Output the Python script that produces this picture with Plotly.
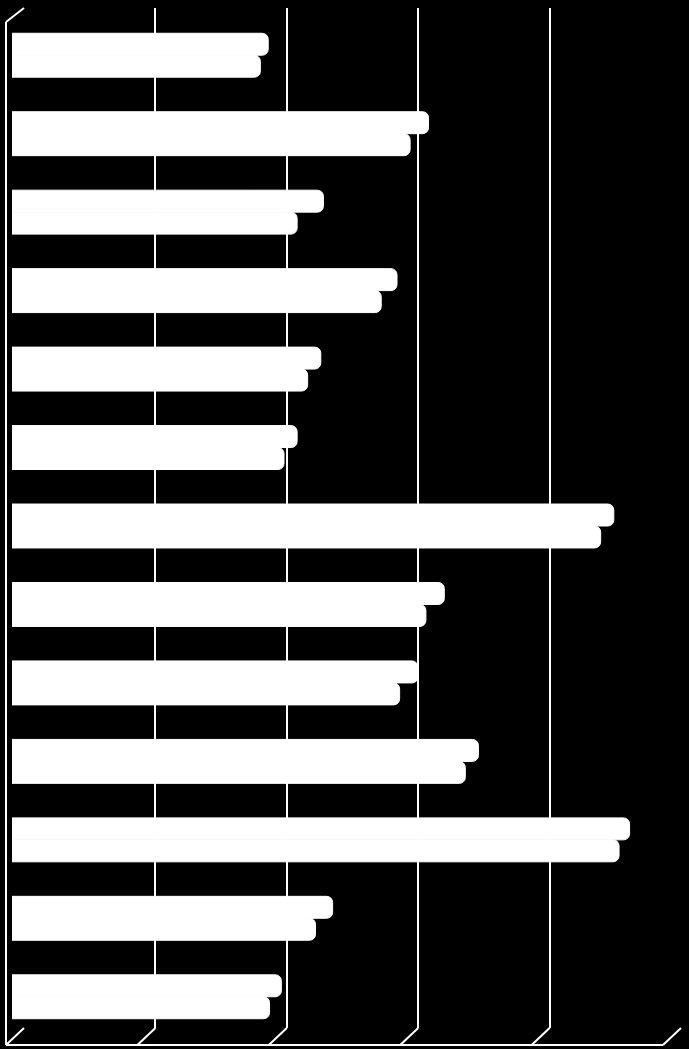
import plotly.graph_objects as go

W, H = 689, 1049

# categories top to bottom, two series per category (no labels shown in the picture)
categories = ["1", "2", "3", "4", "5", "6", "7", "8", "9", "10", "11", "12", "13"]
series_a = [1.95, 3.17, 2.37, 2.93, 2.35, 2.17, 4.58, 3.29, 3.09, 3.55, 4.70, 2.44, 2.05]
series_b = [1.89, 3.03, 2.17, 2.81, 2.25, 2.07, 4.48, 3.15, 2.95, 3.45, 4.62, 2.31, 1.96]
grid_ticks = [0, 1, 2, 3, 4, 5]


def px(x):
    return x / W


def py(y):
    return 1 - y / H


fig = go.Figure()

# empty trace so the back-wall grid subplot gets drawn
fig.add_trace(go.Scatter(x=[], y=[], xaxis="x", yaxis="y", showlegend=False))

for name, vals in [("Series 1", series_a), ("Series 2", series_b)]:
    fig.add_trace(go.Bar(
        name=name, y=categories, x=vals, orientation="h",
        xaxis="x2", yaxis="y2",
        marker=dict(color="white", cornerradius=6, line=dict(color="white", width=1)),
        showlegend=False,
    ))

# 3D frame: left wall edge, floor edges
shapes = [
    dict(type="line", xref="paper", yref="paper", x0=px(6), y0=py(22), x1=px(6), y1=py(1045)),
    dict(type="line", xref="paper", yref="paper", x0=px(6), y0=py(22), x1=px(24), y1=py(8)),
    dict(type="line", xref="paper", yref="paper", x0=px(6), y0=py(1045), x1=px(663), y1=py(1045)),
]
step = (681 - 24) / 5
for t in grid_ticks:
    xb = 24 + t * step
    shapes.append(dict(type="line", xref="paper", yref="paper",
                       x0=px(xb), y0=py(1028), x1=px(xb - 18), y1=py(1045)))
for s in shapes:
    s["line"] = dict(color="white", width=2)
    s["layer"] = "below"

fig.update_layout(
    width=W, height=H,
    margin=dict(l=0, r=0, t=0, b=0),
    paper_bgcolor="black",
    plot_bgcolor="rgba(0,0,0,0)",
    barmode="group", bargap=0.44, bargroupgap=0,
    shapes=shapes,
    xaxis=dict(domain=[px(24), px(681)], range=[0, 5], tickvals=grid_ticks,
               showgrid=True, gridcolor="white", gridwidth=2,
               zeroline=False, showticklabels=False, ticks="", anchor="y"),
    yaxis=dict(domain=[py(1028), py(8)], range=[0, 1], showgrid=False,
               zeroline=False, showticklabels=False, ticks="", anchor="x"),
    xaxis2=dict(domain=[px(12), px(669)], range=[0, 5], showgrid=False,
                zeroline=False, showticklabels=False, ticks="", anchor="y2"),
    yaxis2=dict(domain=[py(1036), py(16)], autorange="reversed", showgrid=False,
                zeroline=False, showticklabels=False, ticks="", anchor="x2"),
)

# drop the page's default body margin so the black chart fills the window
fig.write_html(
    "out.html",
    config={"displayModeBar": False},
    post_script="document.body.style.margin='0';document.body.style.background='black';"
                "document.body.style.overflow='hidden';",
)
